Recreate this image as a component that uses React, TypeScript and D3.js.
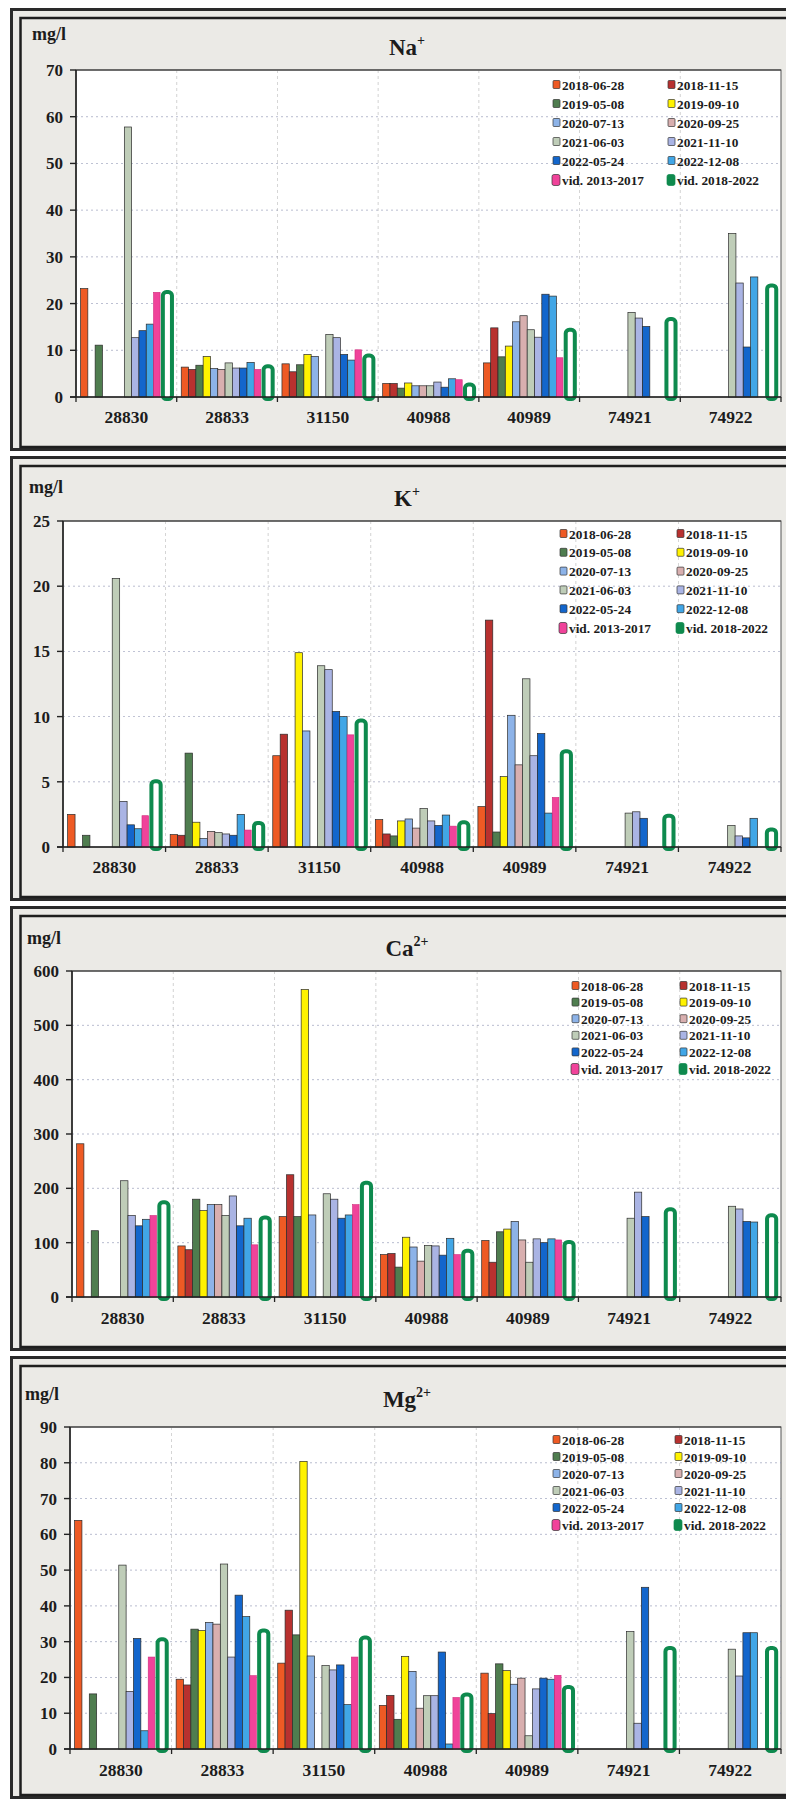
import React from 'react';
import * as d3 from 'd3';

// ---------- data ----------
const wells = ['28830', '28833', '31150', '40988', '40989', '74921', '74922'];

const seriesNames = [
  '2018-06-28', '2018-11-15', '2019-05-08', '2019-09-10', '2020-07-13', '2020-09-25',
  '2021-06-03', '2021-11-10', '2022-05-24', '2022-12-08', 'vid. 2013-2017', 'vid. 2018-2022',
];

const seriesColors = [
  '#EE5A24', '#B8312F', '#4F7D4F', '#FFF200', '#8DB3E8', '#D8AFAF',
  '#BFCDB8', '#AAB4E4', '#1366CC', '#41A6E6', '#F0439A', '#0E8A4E',
];

// rows = series, columns = wells
const naValues: (number | null)[][] = [
  [23.2, 6.4, 7.1, 2.9, 7.3, null, null],
  [null, 5.9, 5.4, 2.9, 14.8, null, null],
  [11.1, 6.8, 6.9, 1.9, 8.6, null, null],
  [null, 8.7, 9.1, 3.0, 10.9, null, null],
  [null, 6.1, 8.7, 2.4, 16.1, null, null],
  [null, 5.9, null, 2.4, 17.4, null, null],
  [57.8, 7.3, 13.4, 2.4, 14.4, 18.1, 35.0],
  [12.7, 6.2, 12.7, 3.2, 12.8, 16.9, 24.4],
  [14.2, 6.2, 9.1, 2.1, 22.0, 15.1, 10.7],
  [15.6, 7.4, 7.9, 3.9, 21.6, null, 25.7],
  [22.4, 5.9, 10.1, 3.7, 8.4, null, null],
  [22.9, 7.0, 9.3, 3.1, 14.8, 17.1, 24.3],
];

const kValues: (number | null)[][] = [
  [2.5, 0.95, 7.0, 2.1, 3.1, null, null],
  [null, 0.9, 8.65, 1.0, 17.4, null, null],
  [0.9, 7.2, null, 0.85, 1.15, null, null],
  [null, 1.9, 14.9, 2.0, 5.4, null, null],
  [null, 0.65, 8.9, 2.15, 10.1, null, null],
  [null, 1.2, null, 1.45, 6.3, null, null],
  [20.6, 1.1, 13.9, 2.95, 12.9, 2.6, 1.65],
  [3.5, 1.0, 13.6, 2.0, 7.0, 2.7, 0.85],
  [1.7, 0.9, 10.4, 1.65, 8.7, 2.2, 0.7],
  [1.4, 2.5, 10.0, 2.45, 2.6, null, 2.2],
  [2.4, 1.3, 8.6, 1.6, 3.8, null, null],
  [5.2, 2.0, 9.85, 2.05, 7.5, 2.55, 1.5],
];

const caValues: (number | null)[][] = [
  [282, 94, 148, 78, 104, null, null],
  [null, 87, 225, 80, 64, null, null],
  [122, 180, 148, 55, 120, null, null],
  [null, 159, 566, 110, 125, null, null],
  [null, 170, 151, 92, 139, null, null],
  [null, 170, null, 66, 105, null, null],
  [214, 150, 190, 95, 64, 145, 167],
  [150, 186, 180, 94, 107, 193, 162],
  [131, 131, 145, 77, 100, 148, 139],
  [143, 145, 151, 108, 107, null, 138],
  [150, 96, 170, 78, 105, null, null],
  [178, 150, 214, 89, 105, 165, 154],
];

const mgValues: (number | null)[][] = [
  [63.9, 19.5, 24.0, 12.2, 21.2, null, null],
  [null, 17.9, 38.8, 15.0, 9.9, null, null],
  [15.4, 33.5, 31.9, 8.3, 23.8, null, null],
  [null, 33.1, 80.4, 25.9, 21.9, null, null],
  [null, 35.4, 26.0, 21.7, 18.1, null, null],
  [null, 34.9, null, 11.4, 19.8, null, null],
  [51.4, 51.7, 23.3, 14.9, 3.7, 32.8, 27.9],
  [16.1, 25.7, 22.1, 14.9, 16.8, 7.2, 20.4],
  [30.9, 43.0, 23.5, 27.1, 19.8, 45.2, 32.5],
  [5.1, 37.0, 12.4, 1.4, 19.5, null, 32.5],
  [25.7, 20.5, 25.7, 14.4, 20.6, null, null],
  [31.2, 33.7, 31.7, 15.8, 17.9, 28.8, 28.8],
];

const naTicks = [0, 10, 20, 30, 40, 50, 60, 70];
const kTicks = [0, 5, 10, 15, 20, 25];
const caTicks = [0, 100, 200, 300, 400, 500, 600];
const mgTicks = [0, 10, 20, 30, 40, 50, 60, 70, 80, 90];

const unitLabel = 'mg/l';

// ---------- layout ----------
const W = 786;
const H = 1799;
const FONT = '"Liberation Serif", "DejaVu Serif", "Times New Roman", serif';
const INK = '#1c1c1c';

type PanelCfg = {
  ion: string; charge: string; values: (number | null)[][]; ticks: number[];
  top: number; bottom: number; plotLeft: number; plotRight: number; plotTop: number; plotBottom: number;
  titleY: number; unitX: number; unitY: number; labelY: number;
  lx1: number; lx2: number; ly: number; ldy: number;
};

const panels: PanelCfg[] = [
  { ion: 'Na', charge: '+', values: naValues, ticks: naTicks, top: 8, bottom: 451,
    plotLeft: 76, plotRight: 781, plotTop: 70, plotBottom: 397, titleY: 55, unitX: 32, unitY: 40, labelY: 423,
    lx1: 553, lx2: 668, ly: 85, ldy: 19 },
  { ion: 'K', charge: '+', values: kValues, ticks: kTicks, top: 456, bottom: 901,
    plotLeft: 63, plotRight: 781, plotTop: 521, plotBottom: 847, titleY: 506, unitX: 29, unitY: 493, labelY: 873,
    lx1: 560, lx2: 677, ly: 534, ldy: 18.8 },
  { ion: 'Ca', charge: '2+', values: caValues, ticks: caTicks, top: 906, bottom: 1351,
    plotLeft: 72, plotRight: 781, plotTop: 971, plotBottom: 1297, titleY: 956, unitX: 27, unitY: 944, labelY: 1324,
    lx1: 572, lx2: 680, ly: 986, ldy: 16.6 },
  { ion: 'Mg', charge: '2+', values: mgValues, ticks: mgTicks, top: 1356, bottom: 1799,
    plotLeft: 70, plotRight: 781, plotTop: 1427, plotBottom: 1749, titleY: 1407, unitX: 25, unitY: 1400, labelY: 1776,
    lx1: 553, lx2: 675, ly: 1440, ldy: 17 },
];

function Panel({ cfg }: { cfg: PanelCfg }) {
  const x = d3.scaleBand<string>().domain(wells).range([cfg.plotLeft, cfg.plotRight]).paddingInner(0).paddingOuter(0);
  const bw = x.bandwidth();
  const xs = d3.scaleBand<string>().domain(seriesNames).range([bw * 0.045, bw * 0.045 + bw * 0.0725 * 12]).padding(0);
  const sw = xs.bandwidth();
  const yMax = cfg.ticks[cfg.ticks.length - 1];
  const y = d3.scaleLinear().domain([0, yMax]).range([cfg.plotBottom, cfg.plotTop]);
  const boundaries = d3.range(1, wells.length).map((i) => cfg.plotLeft + i * bw);
  const last = seriesNames.length - 1;
  const pinkIdx = seriesNames.length - 2;

  return (
    <g>
      {/* frames */}
      <rect x={11.5} y={cfg.top + 1.5} width={W + 10} height={cfg.bottom - cfg.top - 3} fill="#ebeae6" stroke="#2a2a2a" strokeWidth={3} />
      <rect x={20.5} y={cfg.top + 10} width={W} height={cfg.bottom - cfg.top - 14} fill="none" stroke="#1e1e1e" strokeWidth={2.5} />
      {/* plot area */}
      <rect x={cfg.plotLeft} y={cfg.plotTop} width={cfg.plotRight - cfg.plotLeft} height={cfg.plotBottom - cfg.plotTop} fill="#ffffff" stroke="#555" strokeWidth={1} />
      {/* gridlines */}
      {cfg.ticks.filter((t) => t > 0 && t < yMax).map((t) => (
        <line key={'g' + t} x1={cfg.plotLeft} x2={cfg.plotRight} y1={y(t)} y2={y(t)} stroke="#8a91b0" strokeWidth={0.8} strokeDasharray="2 3" opacity={0.75} />
      ))}
      {boundaries.map((bx, i) => (
        <line key={'v' + i} x1={bx} x2={bx} y1={cfg.plotTop} y2={cfg.plotBottom} stroke="#9a9a9a" strokeWidth={0.8} strokeDasharray="3 3" opacity={0.55} />
      ))}
      <line x1={cfg.plotLeft} x2={cfg.plotRight} y1={cfg.plotTop} y2={cfg.plotTop} stroke="#333" strokeWidth={1.2} />
      {/* bars */}
      {seriesNames.map((s, si) =>
        wells.map((w, wi) => {
          const v = cfg.values[si][wi];
          if (v === null || v === undefined) return null;
          const x0 = (x(w) as number) + (xs(s) as number);
          const yt = y(v);
          if (si === last) {
            return (
              <rect key={s + w} x={x0 + 2} y={yt + 2} width={sw + 1.8} height={Math.max(0, cfg.plotBottom - yt)}
                rx={3.5} fill="#ffffff" stroke={seriesColors[si]} strokeWidth={4} />
            );
          }
          if (si === pinkIdx) {
            return (
              <rect key={s + w} x={x0} y={yt} width={sw - 0.8} height={cfg.plotBottom - yt}
                fill={seriesColors[si]} stroke="#d02a7a" strokeWidth={0.6} />
            );
          }
          return (
            <rect key={s + w} x={x0} y={yt} width={sw} height={cfg.plotBottom - yt}
              fill={seriesColors[si]} stroke="#2b2b2b" strokeWidth={0.7} />
          );
        })
      )}
      {/* axes */}
      <line x1={cfg.plotLeft} x2={cfg.plotLeft} y1={cfg.plotTop} y2={cfg.plotBottom} stroke="#222" strokeWidth={1.6} />
      <line x1={cfg.plotLeft - 6} x2={cfg.plotRight} y1={cfg.plotBottom} y2={cfg.plotBottom} stroke="#222" strokeWidth={1.6} />
      {cfg.ticks.map((t) => (
        <g key={'t' + t}>
          <line x1={cfg.plotLeft - 6} x2={cfg.plotLeft} y1={y(t)} y2={y(t)} stroke="#222" strokeWidth={1.4} />
          <text x={cfg.plotLeft - 13} y={y(t)} dy="0.35em" textAnchor="end" fontFamily={FONT} fontWeight="bold" fontSize={17} fill={INK}>{t}</text>
        </g>
      ))}
      {[cfg.plotLeft, ...boundaries, cfg.plotRight].map((bx, i) => (
        <line key={'ct' + i} x1={bx} x2={bx} y1={cfg.plotBottom} y2={cfg.plotBottom + 5} stroke="#222" strokeWidth={1.3} />
      ))}
      {wells.map((w) => (
        <text key={'l' + w} x={(x(w) as number) + bw / 2} y={cfg.labelY} textAnchor="middle" fontFamily={FONT} fontWeight="bold" fontSize={17.5} fill={INK}>{w}</text>
      ))}
      {/* title and unit */}
      <text x={407} y={cfg.titleY} textAnchor="middle" fontFamily={FONT} fontWeight="bold" fontSize={23} fill={INK}>
        {cfg.ion}
        <tspan fontSize={14} dy={-10}>{cfg.charge}</tspan>
      </text>
      <text x={cfg.unitX} y={cfg.unitY} fontFamily={FONT} fontWeight="bold" fontSize={18} fill={INK}>{unitLabel}</text>
      {/* legend */}
      {seriesNames.map((s, si) => {
        const col = si % 2;
        const row = Math.floor(si / 2);
        const lx = col === 0 ? cfg.lx1 : cfg.lx2;
        const ly = cfg.ly + row * cfg.ldy;
        const big = si >= pinkIdx;
        return (
          <g key={'lg' + s}>
            <rect x={lx - (big ? 1 : 0)} y={ly - (big ? 5.5 : 4.5)} width={big ? 8 : 7} height={big ? 11 : 8} rx={big ? 2 : 1}
              fill={seriesColors[si]} stroke={si === last ? seriesColors[si] : '#333'} strokeWidth={0.7} />
            <text x={lx + 9} y={ly} dy="0.35em" fontFamily={FONT} fontWeight="bold" fontSize={13.3} fill={INK}>{s}</text>
          </g>
        );
      })}
    </g>
  );
}

export default function App() {
  return (
    <svg width={W} height={H} viewBox={`0 0 ${W} ${H}`} style={{ position: 'absolute', left: 0, top: 0, display: 'block', background: '#ffffff' }}>
      {panels.map((p) => (
        <Panel key={p.ion} cfg={p} />
      ))}
    </svg>
  );
}
